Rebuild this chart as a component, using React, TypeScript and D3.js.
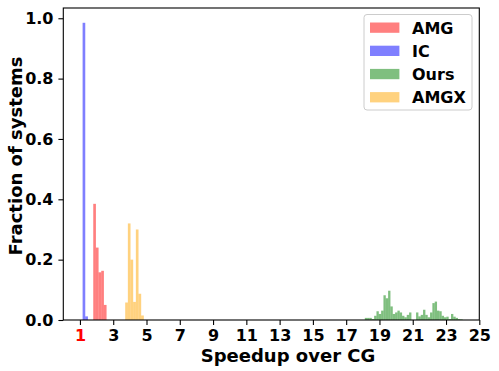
import React, { useEffect, useRef } from 'react';
import * as d3 from 'd3';

// histogram heights (fraction of systems)
const icStart = 1.16;
const icBins = [0.985, 0.012];
const amgStart = 1.8;
const amgBins = [0.385, 0.24, 0.158, 0.163, 0.05];
const amgxStart = 3.72;
const amgxBins = [0.058, 0.32, 0.2, 0.06, 0.3, 0.087, 0.015];
const coarseWidth = 0.16;

const oursStart = 18.12;
const oursWidth = 0.14;
const oursBins = [
  0.007, 0.007, 0.007, 0.003, 0.014, 0.029, 0.02, 0.031, 0.082, 0.072, 0.097,
  0.045, 0.02, 0.025, 0.031, 0.025, 0.014, 0.009, 0.017, 0.025, 0, 0, 0.025,
  0.012, 0.017, 0.034, 0.017, 0.009, 0.025, 0.056, 0.061, 0.031, 0.029, 0.014,
  0.009, 0.011, 0.003, 0.02, 0.011, 0.007, 0.003, 0.002,
];

const xTicks = [1, 3, 5, 7, 9, 11, 13, 15, 17, 19, 21, 23, 25];
const yTicks = [0, 0.2, 0.4, 0.6, 0.8, 1.0];
const legendNames = ['AMG', 'IC', 'Ours', 'AMGX'];
const colors = { AMG: 'red', IC: 'blue', Ours: 'green', AMGX: 'orange' };

export default function App() {
  const ref = useRef<SVGSVGElement>(null);
  useEffect(() => {
    const w = 499, h = 371;
    const m = { left: 63.3, right: 479.3, top: 8, bottom: 320 };
    const font = 'DejaVu Sans';
    const fs = 16;
    const svg = d3.select(ref.current).attr('width', w).attr('height', h);
    svg.selectAll('*').remove();

    const x = d3.scaleLinear().domain([0, 25]).range([m.left, m.right]);
    const y = d3.scaleLinear().domain([0, 1.034]).range([m.bottom, m.top]);

    const series = [
      { name: 'AMG', start: amgStart, width: coarseWidth, bins: amgBins },
      { name: 'IC', start: icStart, width: coarseWidth, bins: icBins },
      { name: 'Ours', start: oursStart, width: oursWidth, bins: oursBins },
      { name: 'AMGX', start: amgxStart, width: coarseWidth, bins: amgxBins },
    ];

    series.forEach(s => {
      const rows = s.bins.map((v, i) => ({ x0: s.start + i * s.width, x1: s.start + (i + 1) * s.width, v }));
      svg.append('g')
        .selectAll('rect')
        .data(rows.filter(r => r.v > 0))
        .join('rect')
          .attr('x', r => x(r.x0))
          .attr('width', r => x(r.x1) - x(r.x0))
          .attr('y', r => y(r.v))
          .attr('height', r => y(0) - y(r.v))
          .attr('fill', colors[s.name])
          .attr('fill-opacity', 0.5);
    });

    // frame
    svg.append('rect')
      .attr('x', m.left).attr('y', m.top)
      .attr('width', m.right - m.left).attr('height', m.bottom - m.top)
      .attr('fill', 'none').attr('stroke', 'black').attr('stroke-width', 1.1);

    const xa = svg.append('g')
      .attr('transform', `translate(0,${m.bottom})`)
      .call(d3.axisBottom(x).tickValues(xTicks).tickFormat(d3.format('d')).tickSize(4.9).tickPadding(4.9));
    const ya = svg.append('g')
      .attr('transform', `translate(${m.left},0)`)
      .call(d3.axisLeft(y).tickValues(yTicks).tickFormat(d3.format('.1f')).tickSize(4.9).tickPadding(4.9));
    [xa, ya].forEach(a => {
      a.select('.domain').remove();
      a.selectAll('line').attr('stroke', 'black').attr('stroke-width', 1.1);
      a.selectAll('text')
        .attr('font-family', font).attr('font-weight', 'bold')
        .attr('font-size', fs).attr('fill', 'black');
    });
    xa.selectAll('text').filter(d => d === 1).attr('fill', 'red');

    svg.append('text')
      .attr('x', 288).attr('y', 362)
      .attr('text-anchor', 'middle')
      .attr('font-family', font).attr('font-weight', 'bold').attr('font-size', 18)
      .text('Speedup over CG');
    svg.append('text')
      .attr('transform', `translate(22,156) rotate(-90)`)
      .attr('text-anchor', 'middle')
      .attr('font-family', font).attr('font-weight', 'bold').attr('font-size', 18)
      .text('Fraction of systems');

    // legend
    const lg = svg.append('g');
    lg.append('rect')
      .attr('x', 364).attr('y', 14.5).attr('width', 108).attr('height', 95.5)
      .attr('rx', 3).attr('fill', 'white').attr('fill-opacity', 0.8)
      .attr('stroke', '#cccccc').attr('stroke-width', 1);
    legendNames.forEach((n, i) => {
      const cy = 27.7 + i * 23.2;
      lg.append('rect')
        .attr('x', 370).attr('y', cy - 5.2).attr('width', 29.4).attr('height', 10.3)
        .attr('fill', colors[n]).attr('fill-opacity', 0.5);
      lg.append('text')
        .attr('x', 412).attr('y', cy + 5.8)
        .attr('font-family', font).attr('font-weight', 'bold').attr('font-size', fs)
        .text(n);
    });
  }, []);
  return <svg ref={ref} style={{ position: 'absolute', left: 0, top: 0 }} />;
}
